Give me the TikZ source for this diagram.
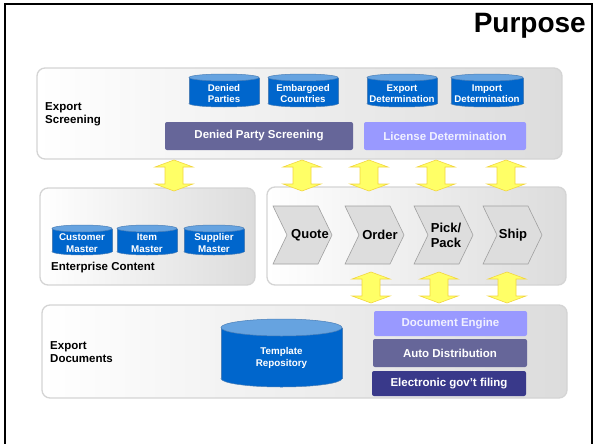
\documentclass[tikz,border=0pt]{standalone}
\usepackage{fontspec}
\setmainfont{Liberation Sans}
\newcommand\fsz[2]{\fontsize{#1}{#2}\selectfont}
\definecolor{dpurple}{HTML}{666699}
\definecolor{lpurple}{HTML}{9999FF}
\definecolor{npurple}{HTML}{39398A}
\definecolor{cylblue}{HTML}{0066CC}
\definecolor{cyltopc}{HTML}{66A3E0}
\definecolor{cyledgec}{HTML}{4A7FB8}
\definecolor{arrfill}{HTML}{FFFF66}
\definecolor{arredge}{HTML}{F2D640}
\definecolor{chevfill}{HTML}{DDDDDD}
\definecolor{chevedge}{HTML}{A0A0A0}
\definecolor{paneledge}{HTML}{D4D4D4}
\definecolor{panelright}{HTML}{DCDCDC}
\tikzset{
  panel/.style={draw=paneledge, line width=1.3pt, rounded corners=8pt,
    left color=white, right color=panelright, inner sep=0pt},
  pbox/.style={rounded corners=2pt, text=white, inner sep=0pt,
    font=\fsz{11.5}{13}\bfseries},
  cylbody/.style={fill=cylblue, draw=cyledgec, line width=0.5pt},
  cylbodyfill/.style={fill=cylblue},
  cyledge/.style={draw=cyledgec, line width=0.5pt},
  cyltop/.style={fill=cyltopc, draw=cyledgec, line width=0.5pt},
  cyltext/.style={text=white, align=center, inner sep=0pt},
  chev/.style={fill=chevfill, draw=chevedge, line width=0.6pt},
  chevtext/.style={align=center, inner sep=0pt, font=\fsz{13}{15}\bfseries},
  lbl/.style={anchor=west, align=left, inner sep=0pt, font=\fsz{11.5}{13.5}\bfseries},
  yarrow/.style={fill=arrfill, draw=arredge, line width=0.6pt, line join=miter},
}
% name, cx, ytop, ybot, width, ry, text, texty
\newcommand\dbcyl[8]{%
  \pgfmathsetmacro\cxl{#2-#5/2}%
  \pgfmathsetmacro\cxr{#2+#5/2}%
  \pgfmathsetmacro\crx{#5/2}%
  \pgfmathsetmacro\ytc{#3+#6}%
  \pgfmathsetmacro\ybc{#4-#6}%
  \filldraw[cylbody] (#2,\ybc) ellipse[x radius=\crx, y radius=#6];
  \fill[cylbodyfill] (\cxl,\ytc) rectangle (\cxr,\ybc);
  \draw[cyledge] (\cxl,\ytc) -- (\cxl,\ybc) (\cxr,\ytc) -- (\cxr,\ybc);
  \filldraw[cyltop] (#2,\ytc) ellipse[x radius=\crx, y radius=#6];
  \node[cyltext] (#1) at (#2,#8) {#7};%
}
% x center, y top, y bottom
\newcommand\dblarrow[3]{%
  \draw[yarrow] ({#1-9},{#2+7}) -- ({#1-19},{#2+7}) -- (#1,#2) -- ({#1+19},{#2+7})
    -- ({#1+9},{#2+7}) -- ({#1+9},{#3-7}) -- ({#1+19},{#3-7}) -- (#1,#3)
    -- ({#1-19},{#3-7}) -- ({#1-9},{#3-7}) -- cycle;%
}
% name, left x, text, text x, text y
\newcommand\chevron[5]{%
  \draw[chev] (#2,206) -- ({#2+45},206) -- ({#2+59},235) -- ({#2+45},264)
    -- (#2,264) -- ({#2+14},235) -- cycle;
  \node[chevtext] (#1) at (#4,#5) {#3};%
}
\begin{document}
\begin{tikzpicture}[x=1pt,y=-1pt]
\useasboundingbox (0,0) rectangle (594,444);
% frame
\draw[line width=1.8pt, black] (5,460) -- (5,4) -- (592,4) -- (592,460);
\node[anchor=base east, inner sep=0pt, font=\fsz{28}{31}\bfseries] (title) at (586,33) {Purpose};

% panels
\node[panel, minimum width=525pt, minimum height=91pt] (screen) at (299.5,113.5) {};
\node[panel, minimum width=215pt, minimum height=97pt] (ent) at (147.5,236.5) {};
\node[panel, minimum width=299pt, minimum height=98pt] (proc) at (416.5,236) {};
\node[panel, minimum width=525pt, minimum height=93pt] (docs) at (304.5,351.5) {};

% Export screening
\node[lbl] (screenlbl) at (45,114.5) {Export\\Screening};
\begin{scope}[font=\fsz{9.7}{11}\bfseries]
\dbcyl{denied}{224}{74}{107}{70}{3.5}{Denied\\Parties}{93.5}
\dbcyl{embargo}{303}{74}{107}{70}{3.5}{Embargoed\\Countries}{93.5}
\dbcyl{expdet}{402}{74}{107}{70}{3.5}{Export\\Determination}{93.5}
\dbcyl{impdet}{487}{74}{107}{72}{3.5}{Import\\Determination}{93.5}
\end{scope}
\node[pbox, fill=dpurple, minimum width=188pt, minimum height=28pt] (dps) at (259,136) {Denied Party Screening};
\node[pbox, fill=lpurple, text=white!94!blue, minimum width=162pt, minimum height=28pt] (lic) at (445,136) {License Determination};

% Enterprise content
\begin{scope}[font=\fsz{9.8}{12}\bfseries]
\dbcyl{cust}{82}{225}{255}{60}{3.5}{Customer\\Master}{243}
\dbcyl{item}{147}{225}{255}{60}{3.5}{Item\\Master}{243}
\dbcyl{supp}{214}{225}{255}{60}{3.5}{Supplier\\Master}{243}
\end{scope}
\node[lbl] (entlbl) at (51,268) {Enterprise Content};

% process chevrons
\chevron{quote}{273}{Quote}{310}{235}
\chevron{order}{345}{Order}{380}{235}
\chevron{pick}{414}{Pick/\\Pack}{446}{235.5}
\chevron{ship}{483}{Ship}{513}{235.5}

% Export documents
\node[lbl] (docslbl) at (50,352) {Export\\Documents};
\begin{scope}[font=\fsz{9.8}{12}\bfseries]
\dbcyl{templ}{281.5}{319}{387}{121}{8.5}{Template\\Repository}{358}
\end{scope}
\node[pbox, fill=lpurple, text=white!94!blue, minimum width=153pt, minimum height=25pt] (deng) at (450.5,323.5) {Document Engine};
\node[pbox, fill=dpurple, minimum width=154pt, minimum height=28pt] (adist) at (450,353) {Auto Distribution};
\node[pbox, fill=npurple, minimum width=154pt, minimum height=25pt] (egov) at (449,383.5) {Electronic gov’t filing};

% yellow double arrows
\dblarrow{174}{160}{191}
\dblarrow{302}{160}{191}
\dblarrow{369}{160}{191}
\dblarrow{436}{160}{191}
\dblarrow{506}{160}{191}
\dblarrow{371}{272}{303}
\dblarrow{439}{272}{303}
\dblarrow{507}{272}{303}
\end{tikzpicture}
\end{document}
